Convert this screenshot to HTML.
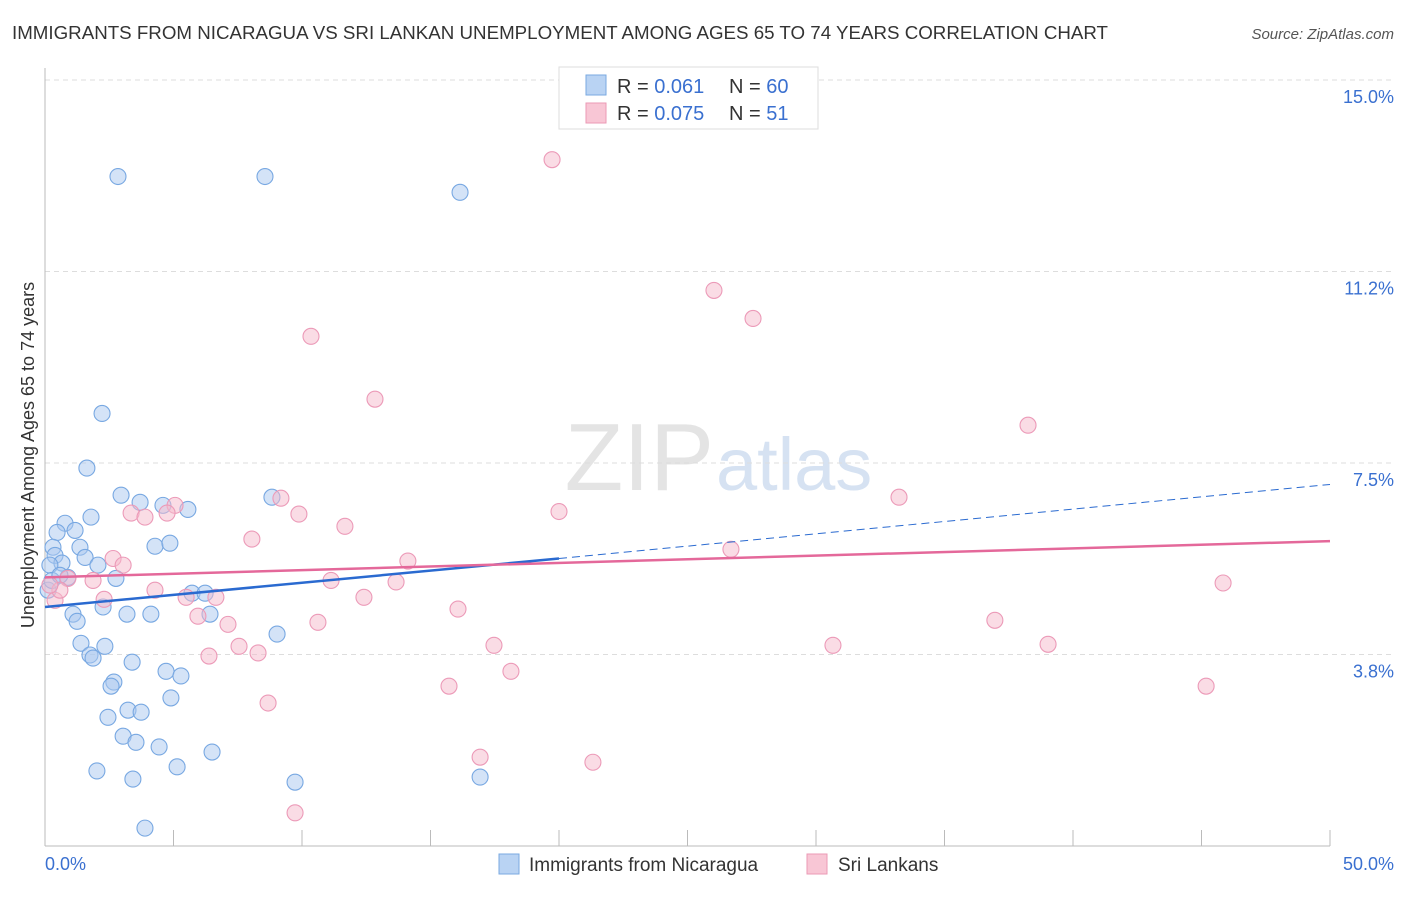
<!DOCTYPE html>
<html><head><meta charset="utf-8"><style>
body{margin:0;background:#fff;font-family:"Liberation Sans",sans-serif;}
svg text{font-family:"Liberation Sans",sans-serif;}
</style></head><body>
<svg id="chart" width="1406" height="892">
<text x="12" y="39" font-size="18" fill="#333" textLength="1096" lengthAdjust="spacingAndGlyphs">IMMIGRANTS FROM NICARAGUA VS SRI LANKAN UNEMPLOYMENT AMONG AGES 65 TO 74 YEARS CORRELATION CHART</text>
<text x="1394" y="39" font-size="15" fill="#555" font-style="italic" text-anchor="end">Source: ZipAtlas.com</text>
<text x="714" y="490" font-size="96" fill="#e4e4e4" text-anchor="end" font-family="Liberation Serif">ZIP</text>
<text x="716" y="490" font-size="74" fill="#d6e2f2">atlas</text>
<text transform="translate(34,455) rotate(-90)" font-size="18" fill="#333" text-anchor="middle">Unemployment Among Ages 65 to 74 years</text>
<g id="grid"></g><g id="marks"></g>
<g>
<rect x="559" y="67" width="259" height="62" fill="#fff" stroke="#ddd"/>
<rect x="586" y="75" width="20" height="20" fill="#b9d3f3" stroke="#7aaae0"/>
<rect x="586" y="103" width="20" height="20" fill="#f8c6d5" stroke="#eb9ab5"/>
<text x="617" y="93" font-size="20" fill="#333">R = <tspan fill="#3a70d0">0.061</tspan></text>
<text x="729" y="93" font-size="20" fill="#333">N = <tspan fill="#3a70d0">60</tspan></text>
<text x="617" y="120" font-size="20" fill="#333">R = <tspan fill="#3a70d0">0.075</tspan></text>
<text x="729" y="120" font-size="20" fill="#333">N = <tspan fill="#3a70d0"> 51</tspan></text>
</g>
<g>
<rect x="499" y="854" width="20" height="20" fill="#b9d3f3" stroke="#7aaae0"/>
<text x="529" y="871" font-size="19" fill="#333">Immigrants from Nicaragua</text>
<rect x="807" y="854" width="20" height="20" fill="#f8c6d5" stroke="#eb9ab5"/>
<text x="838" y="871" font-size="19" fill="#333">Sri Lankans</text>
</g>
<text x="45" y="870" font-size="18" fill="#3a70d0">0.0%</text>
<text x="1394" y="870" font-size="18" fill="#3a70d0" text-anchor="end">50.0%</text>
</svg>
<script>
const yTicks=[15,11.25,7.5,3.75];
const yTickLabels=["15.0%","11.2%","7.5%","3.8%"];
const xTicks=[0,5,10,15,20,25,30,35,40,45,50];
const blueX=[2.84,8.56,16.15,2.22,1.63,2.96,3.70,4.59,5.56,8.83,1.79,0.78,0.47,1.17,4.28,4.86,0.31,1.36,0.39,1.56,0.66,2.06,0.19,0.89,2.76,5.72,6.23,2.26,3.19,4.12,6.42,1.09,1.25,9.03,1.40,2.33,1.75,1.87,3.39,4.71,5.29,2.68,2.57,4.90,3.23,3.74,2.45,3.04,3.54,4.44,6.50,2.02,5.14,3.42,9.73,16.93,3.89,0.12,0.27,0.58];
const blueY=[13.11,13.11,12.80,8.47,7.40,6.87,6.73,6.67,6.59,6.83,6.44,6.32,6.14,6.18,5.87,5.93,5.85,5.85,5.69,5.65,5.54,5.50,5.50,5.26,5.24,4.95,4.95,4.68,4.54,4.54,4.54,4.54,4.40,4.15,3.97,3.91,3.74,3.68,3.60,3.42,3.33,3.21,3.13,2.90,2.66,2.62,2.52,2.15,2.03,1.94,1.84,1.47,1.55,1.31,1.25,1.35,0.35,5.01,5.20,5.30];
const pinkX=[19.73,26.03,27.55,10.35,12.84,38.25,33.23,9.18,5.06,3.35,3.89,4.75,9.88,20.0,11.67,8.05,26.69,2.65,14.12,3.04,0.89,1.87,11.13,13.66,45.84,4.28,5.49,2.30,6.65,12.41,16.07,5.95,7.12,10.62,36.96,7.55,17.47,30.66,39.03,8.29,6.38,18.13,15.72,45.18,8.68,16.93,21.32,9.73,0.39,0.58,0.19];
const pinkY=[13.44,10.88,10.33,9.98,8.75,8.24,6.83,6.81,6.67,6.52,6.44,6.52,6.50,6.55,6.26,6.01,5.81,5.63,5.58,5.50,5.24,5.20,5.20,5.17,5.15,5.01,4.87,4.83,4.87,4.87,4.64,4.50,4.34,4.38,4.42,3.91,3.93,3.93,3.95,3.78,3.72,3.42,3.13,3.13,2.80,1.74,1.64,0.65,4.81,5.01,5.11];
const blueTrend=[4.68,5.63,7.08]; // at x=0, 20, 50
const pinkTrend=[5.26,5.97]; // at x=0, 50
const NS="http://www.w3.org/2000/svg";
const X=v=>45+v/50*1285, Y=v=>846-v*(766/15);
const grid=document.getElementById('grid'), marks=document.getElementById('marks');
function mk(tag,at,parent){const e=document.createElementNS(NS,tag);for(const k in at)e.setAttribute(k,at[k]);parent.appendChild(e);return e;}
yTicks.forEach((t,i)=>{
 const l=mk('line',{x1:45,x2:1394,y1:Y(t),y2:Y(t),stroke:'#ddd','stroke-dasharray':'5,4'},grid);
 
 
 const tx=mk('text',{x:1394,y:Y(t)+23,'font-size':18,fill:'#3a70d0','text-anchor':'end'},grid);tx.textContent=yTickLabels[i];
 
 
});
const ax=mk('line',{x1:45,x2:45,y1:68,y2:846,stroke:'#bbb'},grid);


const bx=mk('line',{x1:45,x2:1330,y1:846,y2:846,stroke:'#bbb'},grid);


xTicks.forEach(t=>{const l=mk('line',{x1:X(t),x2:X(t),y1:830,y2:846,stroke:'#bbb'},grid);
 
 });
function pts(xs,ys,fill,stroke,name){xs.forEach((x,i)=>{const c=mk('circle',{cx:X(x),cy:Y(ys[i]),r:8,fill:fill,'fill-opacity':0.5,stroke:stroke,'stroke-width':1.1},marks);
 
 });}
pts(blueX,blueY,'#a9c8f0','#78a8e2','point-nicaragua');
pts(pinkX,pinkY,'#f6b9cc','#ec9ab8','point-srilanka');
let t1=mk('line',{x1:X(0),y1:Y(blueTrend[0]),x2:X(20),y2:Y(blueTrend[1]),stroke:'#2a6ad0','stroke-width':2.5},marks);


let t2=mk('line',{x1:X(20),y1:Y(blueTrend[1]),x2:X(50),y2:Y(blueTrend[2]),stroke:'#2a6ad0','stroke-width':1,'stroke-dasharray':'8,5'},marks);


let t3=mk('line',{x1:X(0),y1:Y(pinkTrend[0]),x2:X(50),y2:Y(pinkTrend[1]),stroke:'#e4689a','stroke-width':2.5},marks);


</script>
</body></html>
